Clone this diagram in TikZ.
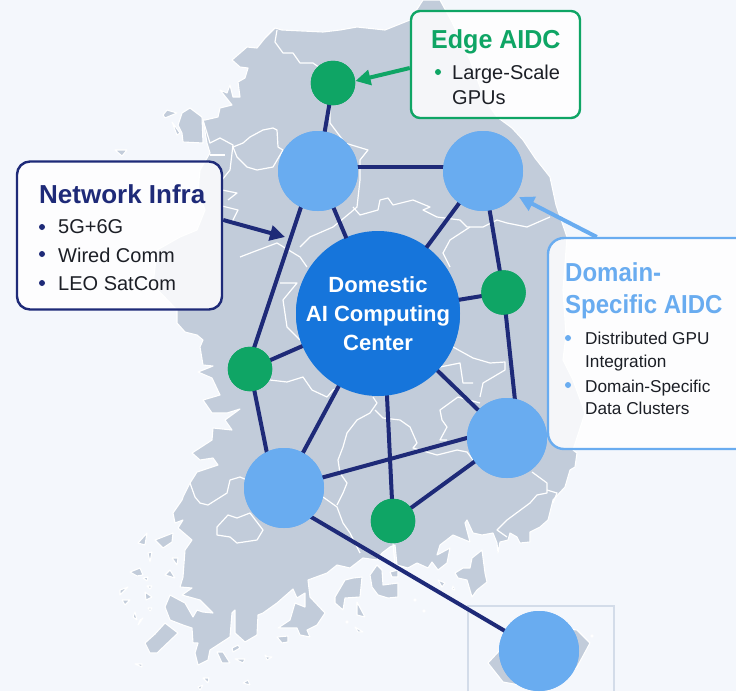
\documentclass[tikz,border=0pt]{standalone}
\usepackage{fontspec}
\usepackage{graphicx}
\setmainfont{Liberation Sans}
\usetikzlibrary{arrows.meta}
\definecolor{bgc}{HTML}{F4F7FC}
\definecolor{mapc}{HTML}{C2CCDA}
\definecolor{navy}{HTML}{1E2A78}
\definecolor{gr}{HTML}{0FA565}
\definecolor{lb}{HTML}{69ACF0}
\definecolor{db}{HTML}{1675DB}
\definecolor{ink}{HTML}{1C1F26}
\definecolor{frameC}{HTML}{D3DCE9}
\tikzset{
  land/.style={fill=mapc,draw=white,line width=1.1pt,line join=round},
  bound/.style={draw=white,line width=1.2pt,line join=round},
  bignode/.style={circle,fill=lb,minimum size=80pt,inner sep=0pt},
  edgenode/.style={circle,fill=gr,minimum size=44.5pt,inner sep=0pt},
  corenode/.style={circle,fill=db,minimum size=164pt,inner sep=0pt,text=white,align=center},
  link/.style={draw=navy,line width=4pt},
  panel/.style={rectangle,fill=white,fill opacity=.84,line width=2.4pt,inner sep=0pt},
  ttl/.style={anchor=base west,inner sep=0pt,font=\fontsize{26}{30}\selectfont\bfseries},
  itm/.style={anchor=base west,inner sep=0pt,text=ink,font=\fontsize{20}{24}\selectfont},
  itmsmall/.style={itm,font=\fontsize{17.2}{20}\selectfont},
  dot/.style={circle,minimum size=6pt,inner sep=0pt},
  pointer/.style={line width=4pt,-{Triangle[length=15pt,width=15pt]}},
}
\begin{document}
\begin{tikzpicture}[x=1pt,y=-1pt]
\useasboundingbox (0,0) rectangle (736,691);
\fill[bgc] (0,0) rectangle (736,691);
% mainland
\path[land] (423,0) -- (440,0) -- (452,22) -- (470,60) -- (485,100) -- (497,117) -- (512,128) -- (523,140) -- (535,158) -- (550,177) -- (556,205) -- (567,237) -- (563,290) -- (566,335) -- (563,360) -- (573,380) -- (585,413) -- (573,450) -- (577,453) -- (575,467) -- (570,470) -- (565,487) -- (553,500) -- (548,520) -- (540,527) -- (530,532) -- (530,542) -- (520,543) -- (517,537) -- (510,533) -- (508,540) -- (500,542) -- (498,553) -- (497,543) -- (493,533) -- (482,535) -- (473,533) -- (467,520) -- (465,523) -- (470,542) -- (453,535) -- (440,545) -- (437,555) -- (450,548) -- (447,563) -- (438,570) -- (432,562) -- (428,568) -- (417,563) -- (408,568) -- (397,565) -- (395,545) -- (390,547) -- (382,553) -- (377,560) -- (363,558) -- (350,568) -- (337,565) -- (327,573) -- (308,580) -- (310,597) -- (325,613) -- (317,625) -- (307,630) -- (310,637) -- (300,635) -- (297,628) -- (278,628) -- (290,620) -- (295,603) -- (305,607) -- (305,593) -- (297,598) -- (293,589) -- (277,603) -- (263,613) -- (258,615) -- (257,635) -- (245,642) -- (235,633) -- (235,610) -- (232,613) -- (230,637) -- (210,650) -- (208,660) -- (198,665) -- (195,653) -- (198,643) -- (193,643) -- (192,628) -- (183,625) -- (170,620) -- (165,607) -- (170,595) -- (185,603) -- (193,617) -- (197,610) -- (203,612) -- (213,613) -- (200,600) -- (182,595) -- (192,588) -- (180,587) -- (183,577) -- (185,550) -- (192,540) -- (178,528) -- (183,520) -- (175,523) -- (173,513) -- (182,500) -- (183,497) -- (190,483) -- (197,472) -- (218,465) -- (213,458) -- (200,460) -- (192,453) -- (212,440) -- (213,428) -- (232,430) -- (225,420) -- (240,409) -- (227,413) -- (212,413) -- (203,400) -- (220,395) -- (212,378) -- (198,372) -- (213,366) -- (203,365) -- (200,347) -- (203,340) -- (197,335) -- (185,332) -- (177,323) -- (177,310) -- (153,285) -- (157,250) -- (180,237) -- (197,230) -- (205,210) -- (198,190) -- (200,170) -- (210,153) -- (207,143) -- (203,120) -- (205,120) -- (218,117) -- (220,108) -- (232,105) -- (220,90) -- (227,93) -- (230,85) -- (233,97) -- (240,97) -- (238,82) -- (245,78) -- (248,68) -- (240,67) -- (232,60) -- (247,47) -- (257,48) -- (265,38) -- (275,28) -- (282,30) -- (323,32) -- (340,30) -- (357,27) -- (385,30) -- (410,20) -- cycle;
% islands, north-west
\path[land] (182,113) -- (190,108) -- (202,117) -- (203,143) -- (183,142) -- (182,133) -- (178,125) -- cycle;
\path[land] (163,115) -- (167,110) -- (177,113) -- (165,118) -- cycle;
\path[land] (172,122) -- (180,133) -- (177,135) -- cycle;
\path[land] (115,150) -- (127,150) -- (122,156) -- cycle;
% islands, south-west
\path[land] (147,533) -- (138,543) -- (145,545) -- cycle;
\path[land] (155,540) -- (173,533) -- (172,542) -- (163,548) -- cycle;
\path[land] (172,558) -- (178,558) -- (177,565) -- cycle;
\path[land] (130,572) -- (140,568) -- (143,575) -- (137,576) -- cycle;
\path[land] (170,570) -- (175,578) -- (165,575) -- cycle;
\path[land] (148,553) -- (152,552) -- (150,562) -- cycle;
\path[land] (143,578) -- (148,577) -- (147,581) -- cycle;
\path[land] (147,586) -- (152,586) -- (150,589) -- cycle;
\path[land] (145,592) -- (152,597) -- (146,600) -- cycle;
\path[land] (122,600) -- (130,600) -- (125,605) -- cycle;
\path[land] (120,590) -- (128,587) -- (120,595) -- cycle;
\path[land] (148,608) -- (152,608) -- (150,611) -- cycle;
\path[land] (135,612) -- (137,620) -- (133,617) -- cycle;
\path[land] (140,620) -- (143,618) -- (138,625) -- cycle;
\path[land] (145,643) -- (155,634) -- (165,623) -- (178,633) -- (157,653) -- (150,653) -- cycle;
\path[land] (135,664) -- (142,664) -- (142,667) -- cycle;
\path[land] (217,652) -- (223,652) -- (230,663) -- (222,663) -- cycle;
\path[land] (232,648) -- (238,645) -- (240,648) -- (233,652) -- cycle;
\path[land] (235,659) -- (245,659) -- (243,663) -- cycle;
\path[land] (277,637) -- (288,636) -- (288,642) -- (282,643) -- cycle;
\path[land] (265,655) -- (268,657) -- (272,657) -- (267,660) -- cycle;
\path[land] (203,678) -- (209,678) -- (208,683) -- cycle;
\path[land] (198,687) -- (203,685) -- (200,690) -- cycle;
\path[land] (243,683) -- (248,680) -- (250,685) -- cycle;
% islands, south
\path[land] (335,597) -- (345,580) -- (353,578) -- (362,577) -- (360,597) -- (345,598) -- (343,610) -- (335,603) -- cycle;
\path[land] (370,575) -- (377,565) -- (382,570) -- (383,585) -- (398,583) -- (398,597) -- (388,598) -- (378,595) -- (372,587) -- cycle;
\path[land] (390,572) -- (398,570) -- (398,577) -- (392,577) -- cycle;
\path[land] (357,602) -- (365,617) -- (357,615) -- cycle;
\path[land] (455,573) -- (463,568) -- (470,568) -- (472,558) -- (482,550) -- (485,573) -- (487,582) -- (477,590) -- (472,597) -- (467,580) -- (458,578) -- cycle;
\path[land] (438,580) -- (445,583) -- (442,587) -- cycle;
\path[land] (453,586) -- (455,590) -- (452,589) -- cycle;
\path[land] (355,627) -- (363,632) -- (358,632) -- cycle;
\path[land] (415,600) circle (1.2pt);
\path[land] (424,611) circle (1.2pt);
\path[land] (347,622) circle (1.2pt);
\path[land] (592,636) circle (1.2pt);
% Jeju
\path[land] (488,663) -- (500,650) -- (530,633) -- (560,628) -- (577,630) -- (590,643) -- (577,667) -- (555,680) -- (530,687) -- (503,682) -- cycle;
% region boundaries
\path[bound] (277,30) -- (275,42) -- (283,53) -- (293,53) -- (300,63) -- (313,63) -- (330,75) -- (330,123) -- (345,143) -- (368,150) -- (360,160) -- (360,180) -- (357,207) -- (350,213);
\path[bound] (353,207) -- (360,215) -- (378,210) -- (380,200) -- (388,198) -- (393,205) -- (413,200) -- (430,207) -- (423,210) -- (437,217) -- (460,220) -- (467,227) -- (483,227) -- (497,220) -- (507,223) -- (527,227) -- (550,217);
\path[bound] (233,147) -- (243,143) -- (250,137) -- (263,130) -- (273,128) -- (277,130) -- (278,147) -- (283,150) -- (273,167) -- (257,170) -- (247,167) -- (237,157) -- cycle;
\path[bound] (203,120) -- (210,143) -- (220,138) -- (233,145) -- (230,170) -- (222,180);
\path[bound] (210,155) -- (225,155);
\path[bound] (222,190) -- (237,193) -- (228,200);
\path[bound] (222,206) -- (238,210) -- (232,222) -- (222,222);
\path[bound] (240,257) -- (253,252) -- (277,243) -- (300,257) -- (307,267);
\path[bound] (300,247) -- (310,237) -- (333,227) -- (350,213);
\path[bound] (470,227) -- (450,240) -- (443,253) -- (450,267);
\path[bound] (280,283) -- (297,283) -- (283,300) -- (287,327) -- (300,340);
\path[bound] (270,380) -- (287,382) -- (303,377) -- (312,390) -- (327,397) -- (333,390) -- (340,387);
\path[bound] (190,483) -- (195,497) -- (200,503) -- (208,505) -- (227,493) -- (230,480) -- (240,477) -- (247,480);
\path[bound] (217,527) -- (228,515) -- (237,518) -- (250,513) -- (263,530) -- (257,540) -- (237,543) -- (230,537) -- (217,535) -- cycle;
\path[bound] (323,497) -- (337,507) -- (343,523) -- (350,533) -- (360,553);
\path[bound] (337,505) -- (343,493) -- (347,483) -- (340,473) -- (338,460) -- (343,447) -- (347,433) -- (357,420) -- (370,413) -- (377,403) -- (373,397);
\path[bound] (375,410) -- (383,418) -- (400,420) -- (410,427) -- (417,443) -- (413,448) -- (437,455) -- (457,450) -- (467,452) -- (473,460);
\path[bound] (480,403) -- (458,397) -- (440,410) -- (442,420) -- (447,427) -- (440,440) -- (447,440);
\path[bound] (453,347) -- (473,358) -- (490,363) -- (505,362) -- (505,370) -- (483,383) -- (480,397);
\path[bound] (440,367) -- (460,363) -- (463,383) -- (473,383);
\path[bound] (532,472) -- (547,483) -- (547,493) -- (537,495) -- (530,503) -- (507,520) -- (497,530) -- (507,537);
\path[bound] (547,490) -- (557,493) -- (553,503);
\path[bound] (393,543) -- (395,565);
% inset frame
\draw[frameC,line width=2pt] (468,691) -- (468,605.5) -- (613.5,605.5) -- (613.5,691);
% named anchors for the links
\node[bignode] (A) at (318,171) {};
\node[bignode] (B) at (483,171) {};
\node[bignode] (C) at (507,438) {};
\node[bignode] (D) at (284,488) {};
\node[bignode] (E) at (539,651) {};
\node[edgenode] (G1) at (333,83) {};
\node[edgenode] (G2) at (503.5,292.5) {};
\node[edgenode] (G3) at (250,369) {};
\node[edgenode] (G4) at (393,521) {};
\node[corenode] (core) at (378,313) {};
\path[link] (G1.center) -- (A.center);
\path[link] ([yshift=4pt]A.center) -- ([yshift=4pt]B.center);
\path[link] (A.center) -- (core.center);
\path[link] ([xshift=-5pt]A.center) -- ([xshift=-3pt]G3.center);
\path[link] (B.center) -- (core.center);
\path[link] (B.center) -- (G2.center);
\path[link] (G2.center) -- (core.center);
\path[link] (G2.center) -- ([xshift=12pt]C.center);
\path[link] (G3.center) -- (core.center);
\path[link] (core.center) -- (D.center);
\path[link] ([xshift=5pt]core.center) -- (G4.center);
\path[link] (core.center) -- (C.center);
\path[link] (G3.center) -- ([xshift=-10pt]D.center);
\path[link] (D.center) -- ([yshift=11pt]C.center);
\path[link] (G4.center) -- (C.center);
\path[link] ([yshift=-13pt]D.center) -- (E.center);
% discs again over the links
\node[bignode] (A2) at (A) {};
\node[bignode] (B2) at (B) {};
\node[bignode] (C2) at (C) {};
\node[bignode] (D2) at (D) {};
\node[bignode] (E2) at (E) {};
\node[edgenode] (G12) at (G1) {};
\node[edgenode] (G22) at (G2) {};
\node[edgenode] (G32) at (G3) {};
\node[edgenode] (G42) at (G4) {};
\node[corenode,font=\fontsize{22}{29}\selectfont\bfseries] (core2) at (378,314) {Domestic\\AI Computing\\Center};
% panels
\node[panel,draw=gr,rounded corners=9pt,minimum width=169pt,minimum height=107pt] (edgebox) at (495.5,64.5) {};
\node[panel,draw=navy,rounded corners=13pt,minimum width=205pt,minimum height=148pt] (netbox) at (119.5,235.5) {};
\node[panel,draw=lb,rounded corners=16pt,minimum width=240pt,minimum height=211pt] (dombox) at (668,343.5) {};
% pointers
\coordinate (nettip) at (285,237);
\coordinate (domtip) at (519,197);
\draw[pointer,draw=gr,fill=gr] (edgebox.west|-0,68) -- (G12.east|-0,81);
\draw[pointer,draw=navy,fill=navy] (netbox.east|-0,220) -- (nettip);
\draw[pointer,draw=lb,fill=lb] (dombox.north west|-0,237)++(50,0) -- (domtip);
% panel text
\node[ttl,text=gr] (t1) at (431,48) {\scalebox{.963}[1]{Edge AIDC}};
\node[itm] (i11) at (452,79) {Large-Scale};
\node[itm] (i12) at (452,104) {GPUs};
\node[dot,fill=gr] (b11) at (438,72) {};
\node[ttl,text=navy] (t2) at (39,203) {Network Infra};
\node[itm] (i21) at (58,233) {5G+6G};
\node[itm] (i22) at (58,262) {Wired Comm};
\node[itm] (i23) at (58,290) {LEO SatCom};
\node[dot,fill=navy] (b21) at (42,227) {};
\node[dot,fill=navy] (b22) at (42,254) {};
\node[dot,fill=navy] (b23) at (42,283) {};
\node[ttl,text=lb] (t31) at (565,281) {\scalebox{.923}[1]{Domain-}};
\node[ttl,text=lb] (t32) at (565,313) {\scalebox{.923}[1]{Specific AIDC}};
\node[itmsmall] (i31) at (585,344) {Distributed GPU};
\node[itmsmall] (i32) at (585,367) {Integration};
\node[itmsmall] (i33) at (585,392) {Domain-Specific};
\node[itmsmall] (i34) at (585,414) {Data Clusters};
\node[dot,fill=lb] (b31) at (568,338) {};
\node[dot,fill=lb] (b32) at (568,385) {};
\end{tikzpicture}
\end{document}
